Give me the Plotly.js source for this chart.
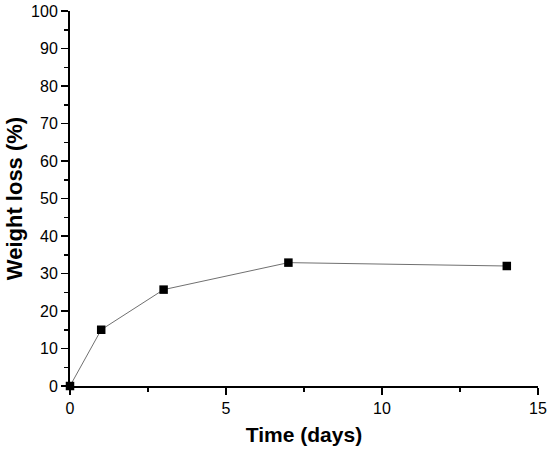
<!DOCTYPE html>
<html>
<head>
<meta charset="utf-8">
<script src="https://cdn.plot.ly/plotly-3.0.1.min.js"></script>
<style>
  html, body { margin: 0; padding: 0; background: #fff; }
  #chart { width: 550px; height: 452px; }
</style>
</head>
<body>
<div id="chart"></div>
<script>
// Weight loss over time
const days = [0, 1, 3, 7, 14];
const weightLoss = [0, 15.0, 25.7, 32.9, 32.0];

const axisFont = { family: "Liberation Sans, Arial, sans-serif", size: 16, color: "#000" };
const xTitleFont = { family: "Liberation Sans, Arial, sans-serif", size: 21, color: "#000", weight: "bold" };
const yTitleFont = { family: "Liberation Sans, Arial, sans-serif", size: 22, color: "#000", weight: "bold" };

const trace = {
  x: days,
  y: weightLoss,
  type: "scatter",
  mode: "lines+markers",
  line: { color: "#707070", width: 1 },
  marker: { symbol: "square", size: 8.5, color: "#000" },
  cliponaxis: false,
  hoverinfo: "x+y",
};

const layout = {
  width: 550,
  height: 452,
  margin: { l: 70, r: 12, t: 11, b: 66 },
  paper_bgcolor: "#fff",
  plot_bgcolor: "#fff",
  showlegend: false,
  font: axisFont,
  xaxis: {
    range: [0, 15],
    dtick: 5,
    tick0: 0,
    ticks: "outside",
    ticklen: 7,
    tickwidth: 1.5,
    tickcolor: "#000",
    showline: true,
    linecolor: "#000",
    linewidth: 2,
    showgrid: false,
    zeroline: false,
    tickfont: axisFont,
    minor: { dtick: 2.5, ticks: "outside", ticklen: 4, tickwidth: 1.5, tickcolor: "#000", showgrid: false },
    title: { text: "Time (days)", font: xTitleFont, standoff: 11 },
  },
  yaxis: {
    range: [0, 100],
    dtick: 10,
    tick0: 0,
    ticks: "outside",
    ticklen: 7,
    tickwidth: 1.5,
    tickcolor: "#000",
    showline: true,
    linecolor: "#000",
    linewidth: 2,
    showgrid: false,
    zeroline: false,
    tickfont: axisFont,
    minor: { dtick: 5, ticks: "outside", ticklen: 4, tickwidth: 1.5, tickcolor: "#000", showgrid: false },
    title: { text: "Weight loss (%)", font: yTitleFont, standoff: 2 },
  },
};

Plotly.newPlot("chart", [trace], layout, { displayModeBar: false, staticPlot: true });
</script>
</body>
</html>
